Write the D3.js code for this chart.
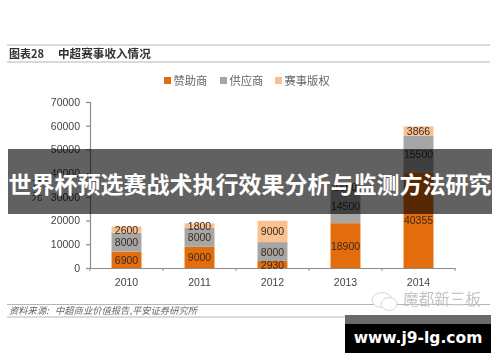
<!DOCTYPE html>
<html>
<head>
<meta charset="utf-8">
<script src="https://cdn.jsdelivr.net/npm/d3@7"></script>
<style>
  html, body { margin: 0; padding: 0; background: #fff; }
  svg { display: block; }
</style>
</head>
<body>
<div id="chart"></div>
<script>
const years = ["2010", "2011", "2012", "2013", "2014"];
const seriesNames = ["赞助商", "供应商", "赛事版权"];
const sponsor = [6900, 9000, 2930, 18900, 40355];
const supplier = [8000, 8000, 8000, 14500, 15500];
const rights = [2600, 1800, 9000, 1600, 3866];
const yTicks = [0, 10000, 20000, 30000, 40000, 50000, 60000, 70000];
const colors = ["#e36c0a", "#a6a6a6", "#fac090"];

const cjk = "'Noto Sans CJK SC', sans-serif";
const serif = "'Noto Sans CJK SC', serif";
const latin = "'Liberation Sans', Arial, sans-serif";

const svg = d3.select("#chart").append("svg")
  .attr("width", 500)
  .attr("height", 362);

const defs = svg.append("defs");
defs.append("filter").attr("id", "soft")
  .append("feGaussianBlur").attr("stdDeviation", 0.45);

const page = svg.append("g").attr("filter", "url(#soft)");

// header and footer rules
[45, 62, 304.5, 317].forEach(function (y) {
  page.append("line")
    .attr("x1", 7).attr("x2", 490)
    .attr("y1", y).attr("y2", y)
    .attr("stroke", "#b5b5b5")
    .attr("stroke-width", 1);
});

page.append("text")
  .attr("x", 9).attr("y", 58)
  .style("font", "bold 11px " + cjk)
  .attr("fill", "#333")
  .text("图表28");
page.append("text")
  .attr("x", 58).attr("y", 58)
  .style("font", "bold 11.6px " + cjk)
  .attr("fill", "#333")
  .text("中超赛事收入情况");

page.append("text")
  .attr("x", 9).attr("y", 314)
  .style("font", "italic 9.3px " + cjk)
  .attr("fill", "#666")
  .text("资料来源:");
page.append("text")
  .attr("x", 55).attr("y", 314)
  .style("font", "italic 9.3px " + cjk)
  .attr("fill", "#666")
  .text("中超商业价值报告,平安证券研究所");

// legend
const legendX = [164, 220, 275];
seriesNames.forEach(function (name, i) {
  page.append("rect")
    .attr("x", legendX[i]).attr("y", 77)
    .attr("width", 7).attr("height", 7)
    .attr("fill", colors[i]);
  page.append("text")
    .attr("x", legendX[i] + 9.5).attr("y", 84.5)
    .style("font", "11.3px " + serif)
    .attr("fill", "#666")
    .text(name);
});

var x = d3.scaleBand()
  .domain(years)
  .range([90, 455])
  .paddingInner(0.59)
  .paddingOuter(0.295);

var y = d3.scaleLinear()
  .domain([0, 70000])
  .range([268, 102]);

const yAxis = page.append("g")
  .attr("transform", "translate(90,0)")
  .call(d3.axisLeft(y).tickValues(yTicks).tickFormat(d3.format("d")).tickSize(4).tickPadding(6));
const xAxis = page.append("g")
  .attr("transform", "translate(0,268)")
  .call(d3.axisBottom(x).tickSize(0).tickPadding(11));

[yAxis, xAxis].forEach(function (axis) {
  axis.selectAll("path, line").attr("stroke", "#8c8c8c").attr("stroke-width", 1.2);
  axis.selectAll("text")
    .style("font", "10.5px " + latin)
    .attr("fill", "#444");
});

// category boundary ticks on the x axis
const step = x.step();
xAxis.selectAll(".edge")
  .data(d3.range(years.length + 1))
  .enter().append("line")
  .attr("x1", function (d) { return 90 + d * step; })
  .attr("x2", function (d) { return 90 + d * step; })
  .attr("y1", 0).attr("y2", 3)
  .attr("stroke", "#8c8c8c");

page.append("text")
  .attr("x", 37).attr("y", 200)
  .attr("text-anchor", "middle")
  .style("font", "10.5px " + cjk)
  .attr("fill", "#444")
  .text("元");
page.append("text")
  .attr("x", 37).attr("y", 188)
  .attr("text-anchor", "middle")
  .style("font", "10.5px " + cjk)
  .attr("fill", "#444")
  .text("万");

// stacked bars
const rows = years.map(function (year, i) {
  return { year: year, s0: sponsor[i], s1: supplier[i], s2: rights[i] };
});
const stack = d3.stack().keys(["s0", "s1", "s2"])(rows);

const layers = page.selectAll(".layer")
  .data(stack)
  .enter().append("g")
  .attr("class", "layer")
  .attr("fill", function (d, i) { return colors[i]; });

layers.selectAll("rect")
  .data(function (d) { return d; })
  .enter().append("rect")
  .attr("x", function (d) { return x(d.data.year); })
  .attr("width", x.bandwidth())
  .attr("y", function (d) { return y(d[1]); })
  .attr("height", function (d) { return y(d[0]) - y(d[1]); });

layers.selectAll("text")
  .data(function (d) { return d; })
  .enter().append("text")
  .attr("x", function (d) { return x(d.data.year) + x.bandwidth() / 2; })
  .attr("y", function (d) { return (y(d[0]) + y(d[1])) / 2 + 4; })
  .attr("text-anchor", "middle")
  .style("font", "10.5px " + latin)
  .attr("fill", "#3a2a20")
  .text(function (d) { return d[1] - d[0]; });

// watermark
page.append("ellipse")
  .attr("cx", 382).attr("cy", 300).attr("rx", 10).attr("ry", 7.5)
  .attr("fill", "#fff").attr("stroke", "#d4d4d4");
page.append("ellipse")
  .attr("cx", 389).attr("cy", 304).attr("rx", 8).attr("ry", 6.5)
  .attr("fill", "#fff").attr("stroke", "#d4d4d4");
page.append("text")
  .attr("x", 403).attr("y", 305)
  .style("font", "15.6px " + serif)
  .attr("fill", "#c4c4c4")
  .text("魔都新三板");

// banner over the chart
svg.append("rect")
  .attr("x", 8).attr("y", 149)
  .attr("width", 484).attr("height", 65)
  .attr("fill", "#000")
  .attr("fill-opacity", 0.62);
svg.append("text")
  .attr("x", 250).attr("y", 193)
  .attr("text-anchor", "middle")
  .style("font", "bold 23px " + cjk)
  .attr("fill", "#fff")
  .text("世界杯预选赛战术执行效果分析与监测方法研究");

// site badge
svg.append("rect")
  .attr("x", 345).attr("y", 315)
  .attr("width", 146).attr("height", 38)
  .attr("fill", "#000");
svg.append("rect")
  .attr("x", 345).attr("y", 315)
  .attr("width", 146).attr("height", 9)
  .attr("fill", "#6a6a6a");
svg.append("text")
  .attr("x", 418).attr("y", 343)
  .attr("text-anchor", "middle")
  .style("font", "bold 15.5px 'DejaVu Sans', sans-serif")
  .attr("fill", "#fff")
  .text("www.j9-lg.com");
</script>
</body>
</html>
